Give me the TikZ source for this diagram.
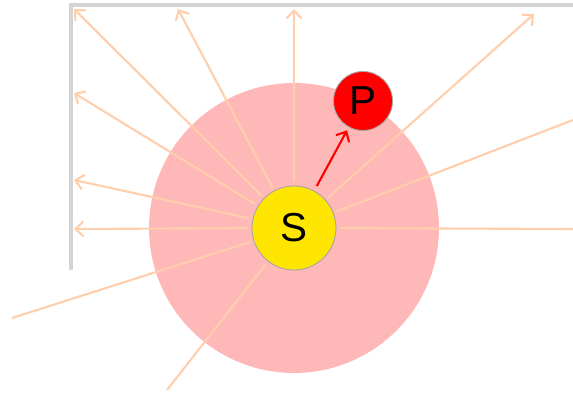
\documentclass[tikz,border=0pt]{standalone}
\usepackage{fontspec}
\setsansfont{Liberation Sans}
\usetikzlibrary{arrows.meta}
\definecolor{rayorange}{RGB}{255,206,172}
\definecolor{zonepink}{RGB}{255,184,184}
\definecolor{sunyellow}{RGB}{255,230,0}
\definecolor{wallgray}{RGB}{212,212,212}
\definecolor{rimgray}{RGB}{165,165,165}

\begin{document}
\begin{tikzpicture}[x=0.02cm,y=-0.02cm,
		ray/.style={rayorange, line width=1.2pt, shorten <=2pt},
		tip/.style={-{Straight Barb[length=4.5pt,width=8.5pt,line width=1.2pt]}},
		body/.style={circle, draw=rimgray, line width=0.5pt, inner sep=0pt,
			font=\sffamily\fontsize{23}{27}\selectfont}]
	\useasboundingbox (0,0) rectangle (573,394);
	% wall
	\draw[wallgray, line width=2pt] (71,270) -- (71,5) -- (573,5);
	% zone round the star
	\node[circle, fill=zonepink, minimum size=5.8cm, inner sep=0pt] (zone) at (294,228) {};
	\node[body, fill=sunyellow, minimum size=1.68cm] (S) at (294,228) {S};
	\node[body, fill=red, minimum size=1.18cm] (P) at (363,101) {P};
	% end points of the rays
	\coordinate (a1) at (294,9);
	\coordinate (a2) at (178,9);
	\coordinate (a3) at (74,9);
	\coordinate (a4) at (74,93);
	\coordinate (a5) at (74,180);
	\coordinate (a6) at (74,229);
	\coordinate (a7) at (534,14);
	\coordinate (b1) at (12,318);
	\coordinate (b2) at (167,390);
	\coordinate (b3) at (573,229);
	\coordinate (b4) at (573,120);
	\foreach \e in {a1,a2,a3,a4,a5,a6,a7}
		\draw[ray, tip] (S) -- (\e);
	\foreach \e in {b1,b2,b3,b4}
		\draw[ray] (S) -- (\e);
	% planet
	\draw[red, line width=1.2pt, tip, shorten <=3pt, shorten >=2pt] (S) -- (P);
\end{tikzpicture}
\end{document}
